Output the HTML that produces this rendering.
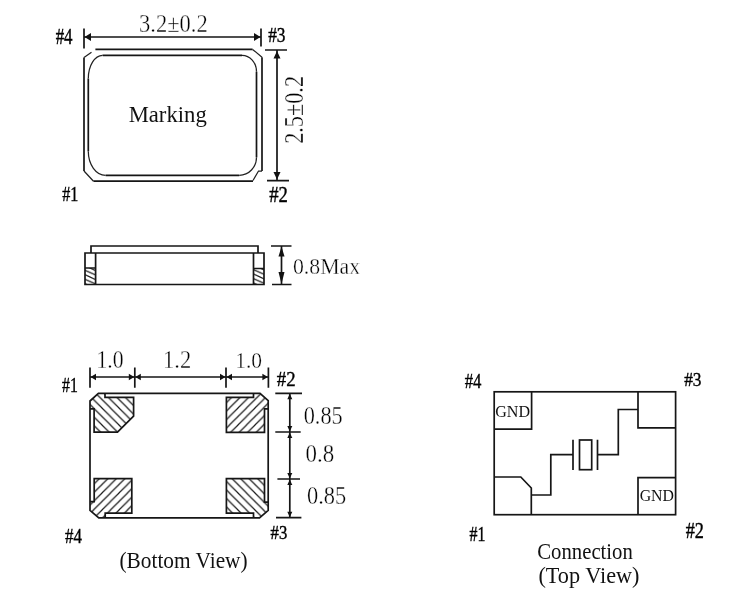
<!DOCTYPE html>
<html><head><meta charset="utf-8">
<style>
html,body{margin:0;padding:0;background:#fff;width:731px;height:599px;overflow:hidden}
svg{display:block;will-change:transform}
.l{stroke:#161616;stroke-width:1.7;fill:none}
.d{stroke:#222;stroke-width:1.25;fill:none}
.h{stroke:#1a1a1a;stroke-width:1.2;fill:none}
.f{fill:#111;stroke:none}
.s{font-family:"Liberation Serif",serif;fill:#000;stroke:#fff;stroke-width:0.35;paint-order:normal}
.r{font-family:"Liberation Serif",serif;fill:#111}
.b{font-family:"Liberation Serif",serif;font-weight:bold;fill:#111}
.m{font-family:"Liberation Serif",serif;fill:#000;stroke:#000;stroke-width:0.4}
</style></head><body>
<svg width="731" height="599" viewBox="0 0 731 599">
<defs>
<pattern id="hb" patternUnits="userSpaceOnUse" width="8.5" height="8.5">
<path d="M-2,-2 L10.5,10.5 M-10.5,-2 L2,10.5 M6.5,-2 L19,10.5" class="h"/>
</pattern>
<pattern id="hf" patternUnits="userSpaceOnUse" width="8.5" height="8.5">
<path d="M-2,10.5 L10.5,-2 M-10.5,10.5 L2,-2 M6.5,10.5 L19,-2" class="h"/>
</pattern>
<pattern id="hs" patternUnits="userSpaceOnUse" width="10" height="4.5" y="268">
<path d="M-1,-0.45 L11,4.95 M-1,-4.95 L11,0.45 M-1,4.05 L11,9.45" class="h"/>
</pattern>
</defs>
<rect width="731" height="599" fill="#fff"/>

<!-- ===== TOP VIEW ===== -->
<g>
<path class="l" d="M84,28.5 V48.5 M261,28.5 V46.5 M84,37 H261"/>
<polygon class="f" points="84.5,37 91,33 91,41"/>
<polygon class="f" points="260.5,37 254,33 254,41"/>
<text class="s" x="139.10" y="31.55" font-size="24.69" textLength="68.65" lengthAdjust="spacingAndGlyphs">3.2±0.2</text>
<text class="m" x="55.65" y="43.90" font-size="22.64" textLength="16.92" lengthAdjust="spacingAndGlyphs">#4</text>
<text class="m" x="268.15" y="42.00" font-size="20.24" textLength="17.31" lengthAdjust="spacingAndGlyphs">#3</text>
<path class="l" d="M95.4,49.4 H252.6 M262,57.2 V171 M253,181.2 H93.5 M84,171 V57.5"/>
<path class="d" d="M84,57.5 L91.5,52.3 M252.6,49.4 L262,57.2 M262,171 H258.5 L253,180.5 M93.5,181.2 L84,171"/>
<path class="l" d="M102.6,55.3 H242 M256.5,71.8 V157.3 M239.3,175.3 H105.6 M88.3,151.3 V78.6"/>
<path class="d" d="M242,55.3 A14.5,16.5 0 0 1 256.5,71.8 M256.5,157.3 A17.2,18 0 0 1 239.3,175.3 M105.6,175.3 A17.3,24 0 0 1 88.3,151.3 M88.3,78.6 A14.3,23.3 0 0 1 102.6,55.3"/>
<path class="l" d="M265,50 H287 M267,180.7 H289 M277,50 V180.7"/>
<polygon class="f" points="277,51 273.5,58.5 280.5,58.5"/>
<polygon class="f" points="277,179.5 273.5,172 280.5,172"/>
<text class="s" transform="translate(303.35,143.85) rotate(-90)" x="0" y="0" font-size="26.47" textLength="67.90" lengthAdjust="spacingAndGlyphs">2.5±0.2</text>
<text class="m" x="269.25" y="201.60" font-size="23.06" textLength="18.67" lengthAdjust="spacingAndGlyphs">#2</text>
<text class="m" x="62.15" y="201.15" font-size="21.41" textLength="16.11" lengthAdjust="spacingAndGlyphs">#1</text>
<text class="r" x="128.65" y="121.70" font-size="23.50" textLength="78.10" lengthAdjust="spacingAndGlyphs">Marking</text>
</g>

<!-- ===== SIDE VIEW ===== -->
<g>
<path fill="url(#hs)" d="M85,268 H95.6 V284.5 H85 Z"/>
<path fill="url(#hs)" d="M253.5,268.5 H264 V284.5 H253.5 Z"/>
<path class="l" d="M91,253 V246 H258 V253"/>
<path class="l" d="M85,253 H264 V284.5 H85 Z M95.6,253 V284.5 M85,268 H95.6 M253.5,253 V284.5 M253.5,268.5 H264"/>
<path class="l" d="M271,246 H291.5 M272,284.5 H291.5 M281.5,246 V284.5"/>
<polygon class="f" points="281.5,246.5 278.5,256.5 284.5,256.5"/>
<polygon class="f" points="281.5,284 278.5,272 284.5,272"/>
<text class="s" x="292.95" y="273.95" font-size="23.08" textLength="67.13" lengthAdjust="spacingAndGlyphs">0.8Max</text>
</g>

<!-- ===== BOTTOM VIEW ===== -->
<g>
<path fill="url(#hb)" d="M98.4,393.4 H105 V397.4 H133.6 V416.2 L117.5,432.2 H94.1 V408.8 H90 V401 Z"/>
<path fill="url(#hf)" d="M226.4,397.4 H253.5 V393.3 H260 L268.2,400.6 V408.9 H264.5 V432.3 H226.4 Z"/>
<path fill="url(#hf)" d="M94.2,478.7 H131.8 V513.2 H105.2 V517.8 H98.8 L90,510.4 V501.7 H94.2 Z"/>
<path fill="url(#hb)" d="M226.4,478.7 H264.5 V502.1 H268.2 V510.4 L259.5,517.8 H253.5 V513.2 H226.4 Z"/>
<path class="l" d="M98.4,393.4 H260 L268.2,400.6 V510.4 L259.5,517.8 H98.8 L90,510.4 V401 Z"/>
<path class="l" d="M105,393.4 V397.4 H133.6 V416.2 L117.5,432.2 H94.1 V408.8 H90"/>
<path class="l" d="M253.5,393.3 V397.4 H226.4 V432.3 H264.5 V408.9 H268.2"/>
<path class="l" d="M90,501.7 H94.2 V478.7 H131.8 V513.2 H105.2 V517.8"/>
<path class="l" d="M268.2,502.1 H264.5 V478.7 H226.4 V513.2 H253.5 V517.8"/>
<path class="l" d="M90,367.5 V387.8 M134.8,367.5 V387.8 M226,367.5 V387.8 M268.4,367.5 V387.8 M90,377 H268.4"/>
<polygon class="f" points="90.5,377 96,373.8 96,380.2"/>
<polygon class="f" points="134.3,377 128.8,373.8 128.8,380.2"/>
<polygon class="f" points="135.3,377 140.8,373.8 140.8,380.2"/>
<polygon class="f" points="225.5,377 220,373.8 220,380.2"/>
<polygon class="f" points="226.5,377 232,373.8 232,380.2"/>
<polygon class="f" points="267.9,377 262.4,373.8 262.4,380.2"/>
<text class="s" x="96.45" y="368.30" font-size="24.69" textLength="27.11" lengthAdjust="spacingAndGlyphs">1.0</text>
<text class="s" x="163.10" y="368.35" font-size="24.99" textLength="28.14" lengthAdjust="spacingAndGlyphs">1.2</text>
<text class="s" x="235.15" y="368.35" font-size="23.96" textLength="26.89" lengthAdjust="spacingAndGlyphs">1.0</text>
<text class="m" x="62.05" y="392.45" font-size="21.68" textLength="15.77" lengthAdjust="spacingAndGlyphs">#1</text>
<text class="m" x="276.75" y="386.40" font-size="21.68" textLength="18.80" lengthAdjust="spacingAndGlyphs">#2</text>
<path class="l" d="M275.3,393.3 H302 M275.3,432 H300.7 M277.4,479 H300 M276,517.7 H301.4 M289.8,393.3 V517.7"/>
<polygon class="f" points="289.8,393.8 287.3,399.3 292.3,399.3"/>
<polygon class="f" points="289.8,431.5 287.3,426 292.3,426"/>
<polygon class="f" points="289.8,432.5 287.3,438 292.3,438"/>
<polygon class="f" points="289.8,478.5 287.3,473 292.3,473"/>
<polygon class="f" points="289.8,479.5 287.3,485 292.3,485"/>
<polygon class="f" points="289.8,517.2 287.3,511.7 292.3,511.7"/>
<text class="s" x="303.65" y="423.85" font-size="24.87" textLength="39.06" lengthAdjust="spacingAndGlyphs">0.85</text>
<text class="s" x="305.55" y="461.70" font-size="25.05" textLength="28.67" lengthAdjust="spacingAndGlyphs">0.8</text>
<text class="s" x="306.95" y="503.70" font-size="25.54" textLength="39.20" lengthAdjust="spacingAndGlyphs">0.85</text>
<text class="m" x="65.10" y="542.65" font-size="21.89" textLength="16.92" lengthAdjust="spacingAndGlyphs">#4</text>
<text class="m" x="270.60" y="538.50" font-size="18.89" textLength="16.66" lengthAdjust="spacingAndGlyphs">#3</text>
<text class="r" x="119.50" y="567.95" font-size="22.50" textLength="128.13" lengthAdjust="spacingAndGlyphs">(Bottom View)</text>
</g>

<!-- ===== CONNECTION ===== -->
<g>
<rect class="l" x="494.2" y="391.8" width="181.4" height="122.9"/>
<path class="l" d="M494.2,429.1 H531.6 V391.8"/>
<path class="l" d="M638,391.8 V427.9 H675.6"/>
<path class="l" d="M494.2,477 H520.8 L531.3,488 V514.7"/>
<path class="l" d="M638,514.8 V477.6 H675.6"/>
<path class="l" d="M531.3,495 H550.8 V454.7 H573 M573,439.7 V470 M597.5,439.7 V470 M597.5,454.7 H618.3 V409.5 H638"/>
<rect class="l" x="579.5" y="440" width="12.2" height="29.7"/>
<text class="r" x="495.20" y="416.65" font-size="17.34" textLength="34.84" lengthAdjust="spacingAndGlyphs">GND</text>
<text class="r" x="639.65" y="501.35" font-size="17.35" textLength="34.32" lengthAdjust="spacingAndGlyphs">GND</text>
<text class="m" x="464.65" y="387.65" font-size="21.62" textLength="16.71" lengthAdjust="spacingAndGlyphs">#4</text>
<text class="m" x="684.15" y="386.10" font-size="19.87" textLength="17.31" lengthAdjust="spacingAndGlyphs">#3</text>
<text class="m" x="469.60" y="540.65" font-size="20.34" textLength="15.88" lengthAdjust="spacingAndGlyphs">#1</text>
<text class="m" x="685.75" y="537.75" font-size="22.02" textLength="18.23" lengthAdjust="spacingAndGlyphs">#2</text>
<text class="r" x="537.30" y="558.95" font-size="22.50" textLength="95.54" lengthAdjust="spacingAndGlyphs">Connection</text>
<text class="r" x="538.45" y="583.00" font-size="22.50" textLength="101.03" lengthAdjust="spacingAndGlyphs">(Top View)</text>
</g>
</svg>
</body></html>
